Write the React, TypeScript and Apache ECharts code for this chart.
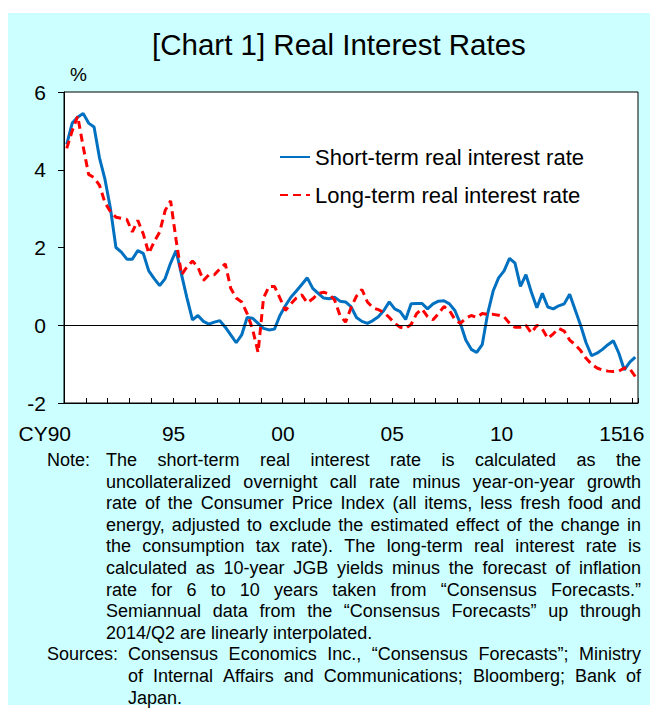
import React, { useEffect, useRef } from "react";
import * as echarts from "echarts";

const FONT = "Liberation Sans, Arial, sans-serif";

const startYear = 1990;
const endYear = 2016;
const categories: string[] = [];
for (let y = startYear; y <= endYear; y++) {
  for (let q = 1; q <= 4; q++) {
    if (y === endYear && q > 1) break;
    categories.push(`${y}Q${q}`);
  }
}

const labelYears = ["1990", "1995", "2000", "2005", "2010", "2015", "2016"];
const labelTexts = ["CY90", "95", "00", "05", "10", "15", "16"];

const shortTerm = [
  4.65, 5.2, 5.35, 5.45, 5.2, 5.1, 4.3, 3.75, 3.0, 2.0,
  1.88, 1.7, 1.7, 1.92, 1.85, 1.4, 1.2, 1.02, 1.2, 1.6,
  1.92, 1.3, 0.7, 0.14, 0.25, 0.1, 0.03, 0.08, 0.12, -0.05,
  -0.25, -0.45, -0.25, 0.2, 0.18, 0.05, -0.08, -0.12, -0.1, 0.25,
  0.5, 0.72, 0.88, 1.05, 1.22, 0.95, 0.82, 0.7, 0.68, 0.72,
  0.62, 0.6, 0.48, 0.2, 0.1, 0.05, 0.12, 0.22, 0.38, 0.6,
  0.42, 0.35, 0.15, 0.55, 0.56, 0.56, 0.42, 0.55, 0.62, 0.63,
  0.55, 0.38, 0.05, -0.38, -0.62, -0.7, -0.5, 0.3, 0.88, 1.22,
  1.4, 1.72, 1.6, 1.0, 1.3, 0.85, 0.45, 0.82, 0.47, 0.42,
  0.5, 0.55, 0.8, 0.4, 0.0, -0.45, -0.78, -0.72, -0.62, -0.5,
  -0.4, -0.72, -1.15, -0.95, -0.82,
];

const longTerm = [
  4.55, 5.0, 5.38, 4.6, 3.88, 3.8, 3.6, 3.15, 2.92, 2.78,
  2.75, 2.72, 2.4, 2.7, 2.35, 1.85, 2.15, 2.4, 2.95, 3.2,
  2.2, 1.3, 1.5, 1.65, 1.5, 1.15, 1.3, 1.3, 1.45, 1.58,
  0.95, 0.7, 0.6, 0.3, -0.1, -0.7, 0.7, 1.0, 1.0, 0.7,
  0.38, 0.55, 0.7, 0.78, 0.58, 0.68, 0.82, 0.85, 0.8, 0.65,
  0.25, 0.08, 0.45, 0.75, 0.92, 0.6, 0.45, 0.4, 0.33, 0.2,
  0.05, -0.05, -0.08, 0.02, 0.3, 0.42, 0.22, 0.14, 0.3, 0.48,
  0.38, 0.15, 0.05, 0.18, 0.25, 0.2, 0.3, 0.28, 0.28, 0.26,
  0.22, 0.05, -0.05, -0.05, 0.0, -0.2, 0.0, -0.1, -0.34, -0.22,
  -0.08, -0.15, -0.38, -0.5, -0.65, -0.85, -1.0, -1.1, -1.15, -1.18,
  -1.19, -1.18, -1.1, -1.12, -1.32,
];

const seriesNames = ["Short-term real interest rate", "Long-term real interest rate"];
const titleText = "[Chart 1] Real Interest Rates";
const unitText = "%";

const noteLabel = "Note:";
const noteLines = [
  "The short-term real interest rate is calculated as the",
  "uncollateralized overnight call rate minus year-on-year growth",
  "rate of the Consumer Price Index (all items, less fresh food and",
  "energy, adjusted to exclude the estimated effect of the change in",
  "the consumption tax rate). The long-term real interest rate is",
  "calculated as 10-year JGB yields minus the forecast of inflation",
  "rate for 6 to 10 years taken from \u201cConsensus Forecasts.\u201d",
  "Semiannual data from the \u201cConsensus Forecasts\u201d up through",
  "2014/Q2 are linearly interpolated.",
];
const sourceLabel = "Sources:";
const sourceLines = [
  "Consensus Economics Inc., \u201cConsensus Forecasts\u201d; Ministry",
  "of Internal Affairs and Communications; Bloomberg; Bank of",
  "Japan.",
];

function buildNotes(): any[] {
  const fontSize = 18;
  const canvas = document.createElement("canvas");
  const ctx = canvas.getContext("2d")!;
  ctx.font = `${fontSize}px "Liberation Sans", Arial, sans-serif`;
  const els: any[] = [];
  const mk = (text: string, x: number, y: number) => ({
    type: "text",
    x,
    y,
    silent: true,
    style: {
      text,
      fill: "#000",
      fontSize,
      fontFamily: FONT,
      verticalAlign: "middle",
      textVerticalAlign: "middle",
    },
  });
  const place = (line: string, x0: number, x1: number, y: number, justify: boolean) => {
    const words = line.split(" ");
    const widths = words.map((w) => ctx.measureText(w).width);
    const total = widths.reduce((a, b) => a + b, 0);
    const spaceW = ctx.measureText(" ").width;
    let gap = spaceW;
    if (justify && words.length > 1) gap = Math.max(2, (x1 - x0 - total) / (words.length - 1));
    let x = x0;
    words.forEach((w, k) => {
      els.push(mk(w, x, y));
      x += widths[k] + gap;
    });
  };
  const y0 = 460;
  const step = 21.6;
  els.push(mk(noteLabel, 47, y0));
  noteLines.forEach((l, i) => place(l, 106, 641, y0 + i * step, i < noteLines.length - 1));
  const ys = y0 + noteLines.length * step;
  els.push(mk(sourceLabel, 47, ys));
  sourceLines.forEach((l, i) => place(l, 128, 641, ys + i * step, i < sourceLines.length - 1));
  return els;
}

export default function App() {
  const ref = useRef<HTMLDivElement>(null);
  useEffect(() => {
    if (!ref.current) return;
    const chart = echarts.init(ref.current, undefined, { renderer: "svg" });
    const option: any = {
      animation: false,
      backgroundColor: "#ffffff",
      textStyle: { fontFamily: FONT },
      title: {
        text: titleText,
        left: 152,
        top: 29,
        padding: 0,
        textStyle: { fontSize: 29.5, fontWeight: "normal", color: "#000", fontFamily: FONT },
      },
      graphic: [
        {
          type: "rect",
          z: -100,
          silent: true,
          shape: { x: 8, y: 13, width: 642, height: 692 },
          style: { fill: "#CCFFFF" },
        },
        ...buildNotes(),
      ],
      legend: {
        orient: "vertical",
        left: 279,
        top: 145,
        padding: 0,
        itemWidth: 30,
        itemHeight: 12,
        itemGap: 14,
        selectedMode: false,
        itemStyle: { opacity: 0, color: "transparent", borderColor: "transparent", borderWidth: 0 },
        textStyle: { fontSize: 22, color: "#000", fontFamily: FONT, lineHeight: 24 },
        data: seriesNames,
      },
      grid: {
        left: 64,
        top: 92,
        right: 14,
        bottom: 310,
        show: true,
        backgroundColor: "#ffffff",
        borderColor: "#000",
        borderWidth: 1,
        containLabel: false,
      },
      xAxis: {
        type: "category",
        data: categories,
        boundaryGap: true,
        axisLine: { show: true, onZero: false, lineStyle: { color: "#000", width: 1 } },
        axisTick: {
          show: true,
          inside: true,
          length: 5,
          interval: (i: number) => i % 4 === 0,
          lineStyle: { color: "#000", width: 1 },
        },
        axisLabel: {
          show: true,
          interval: 0,
          hideOverlap: false,
          formatter: (v: string) => {
            if (!v.endsWith("Q1")) return "";
            const idx = labelYears.indexOf(v.slice(0, 4));
            if (idx < 0) return "";
            return idx === 0 ? `{c|${labelTexts[idx]}}` : `{n|${labelTexts[idx]}}`;
          },
          margin: 20,
          color: "#000",
          fontSize: 21,
          fontFamily: FONT,
          rich: {
            c: { fontSize: 21, fontFamily: FONT, color: "#000", padding: [0, 44, 0, 0] },
            n: { fontSize: 21, fontFamily: FONT, color: "#000", padding: [0, 5, 0, 0] },
          },
        },
        splitLine: { show: false },
      },
      yAxis: {
        type: "value",
        min: -2,
        max: 6,
        interval: 2,
        name: unitText,
        nameLocation: "end",
        nameGap: 8,
        nameTextStyle: {
          fontSize: 19,
          color: "#000",
          fontFamily: FONT,
          align: "left",
          verticalAlign: "bottom",
          padding: [0, 0, 0, 6],
        },
        axisLine: { show: true, lineStyle: { color: "#000", width: 1 } },
        axisTick: { show: true, inside: false, length: 6, lineStyle: { color: "#000" } },
        axisLabel: { color: "#000", fontSize: 21, fontFamily: FONT, margin: 18 },
        splitLine: { show: false },
      },
      series: [
        {
          name: seriesNames[0],
          type: "line",
          data: shortTerm,
          symbol: "none",
          smooth: false,
          z: 3,
          lineStyle: { color: "#0070C0", width: 3, type: "solid" },
          itemStyle: { color: "#0070C0" },
          markLine: {
            silent: true,
            symbol: ["none", "none"],
            label: { show: false },
            lineStyle: { color: "#000", width: 1, type: "solid" },
            emphasis: { disabled: true },
            data: [{ yAxis: 0 }],
          },
        },
        {
          name: seriesNames[1],
          type: "line",
          data: longTerm,
          symbol: "none",
          smooth: false,
          z: 4,
          lineStyle: { color: "#FF0000", width: 3, type: [8, 5] },
          itemStyle: { color: "#FF0000" },
        },
      ],
    };
    chart.setOption(option);
    return () => chart.dispose();
  }, []);
  return (
    <div
      ref={ref}
      style={{ position: "absolute", left: 0, top: 0, width: 652, height: 713 }}
    />
  );
}
